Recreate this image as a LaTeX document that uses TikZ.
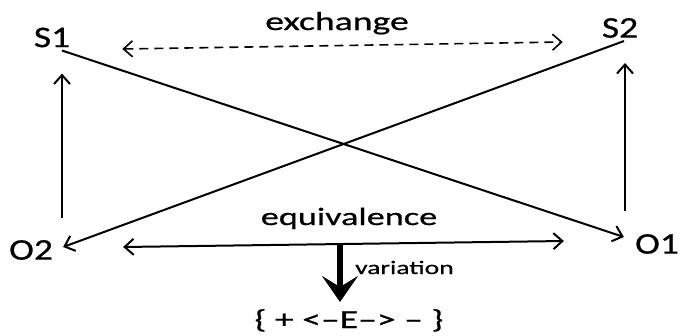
\documentclass[tikz,border=0pt]{standalone}
\usepackage{fontspec}
\setmainfont{Carlito}
\newfontfamily\labfont[FakeStretch=1.25,FakeBold=0.7]{Carlito}
\newfontfamily\widefont[FakeStretch=1.45,FakeBold=0.7]{Carlito}
\usetikzlibrary{arrows.meta,calc}
\begin{document}
\begin{tikzpicture}[x=1pt,y=-1pt,
  lab/.style={inner sep=0pt,font=\labfont\fontsize{30}{30}\selectfont},
  word/.style={inner sep=0pt,anchor=base,font=\widefont\fontsize{26}{26}\selectfont},
  conn/.style={line width=2pt,-{Straight Barb[length=9pt,width=16pt]}},
  both/.style={line width=2pt,{Straight Barb[length=9pt,width=16pt]}-{Straight Barb[length=9pt,width=16pt]}},
  bold/.style={line width=6pt,-{Stealth[length=26pt,width=36pt,inset=11pt]}}]
\useasboundingbox[fill=white] (0,0) rectangle (682,335);
% main nodes
\node[lab] (S1) at (52,37.5) {S1};
\node[lab] (S2) at (620,28) {S2};
\node[lab] (O2) at (31,250) {O2};
\node[lab] (O1) at (657,244) {O1};
% labels
\node[word] (ex) at (337,30) {exchange};
\node[word,font=\widefont\fontsize{25}{25}\selectfont] (eq) at (349,225) {equivalence};
\node[inner sep=0pt,anchor=base west,font=\widefont\fontsize{19}{19}\selectfont] (var) at (355,274) {variation};
\node[word,font=\widefont\fontsize{26}{26}\selectfont] (B) at (349,328) {\{ + <–E–> – \}};
% crossing diagonals
\draw[conn] ($(S1.south)+(10,3)$) -- ($(O1.west)+(-11,-7)$);
\draw[conn] ($(S2.south)+(4,3)$) -- ($(O2.east)+(10,-3)$);
% verticals
\draw[conn] ($(O2.north)+(31,-22)$) -- ($(S1.south)+(10,26)$);
\draw[conn] ($(O1.north)+(-32,-23)$) -- ($(S2.south)+(5,25)$);
% exchange
\draw[both,line width=1.6pt,dash pattern=on 9pt off 6pt] ($(S1.east)+(52,11.5)$) -- ($(S2.west)+(-39,14)$);
% equivalence
\draw[both] ($(O2.east)+(70,-3)$) -- ($(O1.west)+(-71,-3)$);
% variation
\coordinate (v) at (340,243);
\draw[bold] (v) -- (340,302);
\end{tikzpicture}
\end{document}
